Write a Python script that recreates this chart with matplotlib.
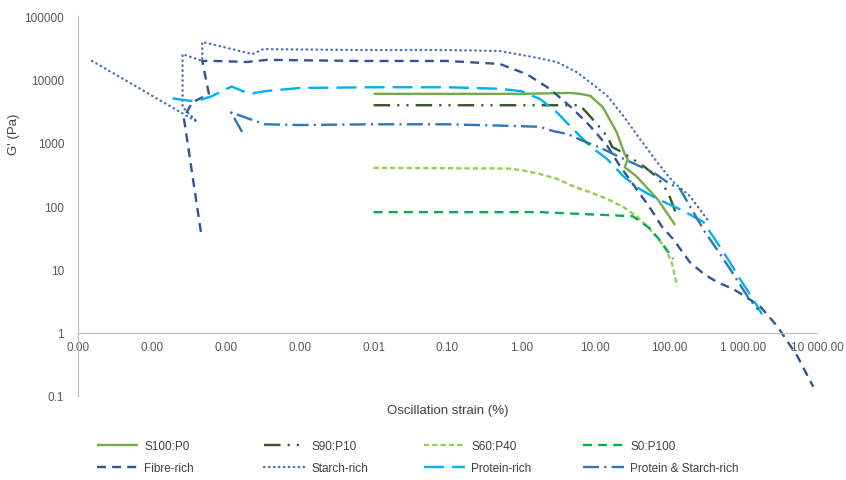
import matplotlib
matplotlib.use("Agg")
import matplotlib.pyplot as plt
from matplotlib.ticker import NullLocator

plt.rcParams['font.family'] = ['Liberation Sans', 'DejaVu Sans']

# ---------------- data (strain %, G' Pa) ----------------
s100_x = [0.01, 0.1, 1.0, 4.5, 6.2, 8.5, 12.6, 19.4, 25, 27.5, 25, 36, 69, 113, 120]
s100_y = [5900, 5900, 5900, 6100, 5900, 5500, 3650, 1480, 660, 550, 410, 295, 129, 56, 50]

s90_x = [0.01, 0.1, 1.0, 6.2, 9.9, 14.5, 17, 23, 47, 69, 96, 128]
s90_y = [3900, 3900, 3900, 3900, 2140, 1260, 850, 710, 410, 285, 166, 69]

s60_x = [0.01, 0.1, 0.7, 1.1, 1.78, 3.0, 5.0, 8.5, 14.5, 24, 36, 50, 69, 93, 110, 128]
s60_y = [400, 395, 390, 360, 320, 270, 205, 165, 129, 96, 69, 48, 32, 19.5, 12, 5.4]

s0_x = [0.01, 0.1, 1.78, 32, 40, 55, 76, 113]
s0_y = [80, 80, 80, 69, 58, 44, 28, 14.6]

fibre_x = [4.6e-5, 2.7e-5, 3.5e-5, 5.9e-5, 4.8e-5, 7.1e-5, 1.95e-4, 3.6e-4, 6.6e-3, 0.1,
           0.51, 1.19, 2.46, 5.0, 8.5, 14.5, 21.5, 36, 45, 60, 80, 113, 190, 300, 445,
           730, 1120, 1700, 2900, 5400, 8900]
fibre_y = [39, 2500, 4300, 5900, 19500, 19500, 18800, 20300, 19500, 19500,
           17500, 12000, 7000, 3400, 1830, 890, 430, 186, 130, 80, 47, 30, 13, 8.3, 6.3,
           4.9, 3.6, 2.6, 1.26, 0.43, 0.14]

starch_x = [1.55e-6, 4.1e-5, 2.6e-5, 2.6e-5, 4.8e-5, 4.8e-5, 2.3e-4, 3.2e-4, 6.6e-3, 0.1,
            0.51, 1.3, 3.0, 5.6, 8.5, 14.5, 24, 40, 69, 113, 190, 340]
starch_y = [19500, 2130, 3650, 25000, 19500, 39000, 25000, 30000, 29000, 29000,
            28000, 23000, 18800, 13000, 9000, 5500, 2640, 1150, 490, 240, 144, 58]

protein_x = [1.9e-5, 3.1e-5, 4.1e-5, 6.2e-5, 8.9e-5, 1.2e-4, 1.7e-4, 2.3e-4, 3.4e-4, 1e-3,
             0.01, 0.1, 0.5, 1.0, 1.78, 3.0, 5.0, 8.5, 14.5, 24, 40, 69, 140, 290, 460,
             660, 910, 1360, 1800]
protein_y = [5000, 4600, 4600, 5300, 6500, 7700, 6500, 6000, 6500, 7300,
             7500, 7500, 7100, 6500, 4900, 3040, 1640, 880, 550, 295, 185, 129, 89, 56, 25,
             13, 7, 3.4, 1.95]

ps_x = [1.66e-4, 1.18e-4, 2.5e-4, 3.4e-4, 1e-3, 0.01, 0.1, 0.87, 1.78, 2.7, 4.2, 6.8, 12.6,
        21.5, 40, 60, 93, 140, 190, 300, 490, 780, 1170, 1600]
ps_y = [1480, 3000, 2200, 1950, 1900, 1950, 1950, 1830, 1780, 1520, 1370, 1070, 800,
        590, 425, 345, 240, 185, 100, 40, 17.4, 7.6, 3.6, 2.3]

y_ticks = [0.1, 1, 10, 100, 1000, 10000, 100000]
y_labels = ['0.1', '1', '10', '100', '1000', '10000', '100000']
x_ticks = [1e-6, 1e-5, 1e-4, 1e-3, 1e-2, 1e-1, 1, 10, 100, 1000, 10000]
x_labels = ['0.00', '0.00', '0.00', '0.00', '0.01', '0.10', '1.00', '10.00', '100.00',
            '1 000.00', '10 000.00']

# ---------------- figure ----------------
W, H = 846, 481
fig = plt.figure(figsize=(W / 100, H / 100), dpi=100)
ax = fig.add_axes([78 / W, 1 - 397 / H, (817 - 78) / W, 380 / H])
ax.set_xscale('log')
ax.set_yscale('log')
ax.set_xlim(1e-6, 1e4)
ax.set_ylim(0.1, 1e5)

lw = 1.7
common = dict(lw=lw, solid_capstyle='butt', dash_capstyle='butt')
l_s100, = ax.plot(s100_x, s100_y, color='#70AD47', ls='-', label='S100:P0', **common)
l_s90, = ax.plot(s90_x, s90_y, color='#375623', ls=(0, (7, 3.0, 0.9, 3.0, 0.9, 3.0)), label='S90:P10', **common)
l_s60, = ax.plot(s60_x, s60_y, color='#92D050', ls=(0, (2.2, 1.3)), label='S60:P40', **common)
l_s0, = ax.plot(s0_x, s0_y, color='#00B050', ls=(0, (3.8, 2.6)), label='S0:P100', **common)
l_fib, = ax.plot(fibre_x, fibre_y, color='#2F5597', ls=(0, (3.8, 2.6)), label='Fibre-rich', **common)
l_sta, = ax.plot(starch_x, starch_y, color='#4472C4', lw=lw, ls=(0, (0.2, 1.9)),
                 dash_capstyle='round', label='Starch-rich')
l_pro, = ax.plot(protein_x, protein_y, color='#00B0F0', ls=(0, (8.5, 3.4)), label='Protein-rich', **common)
l_ps, = ax.plot(ps_x, ps_y, color='#2E75B6', ls=(0, (6.8, 2.2, 0.9, 2.2)), label='Protein & Starch-rich', **common)

# axes styling
for s in ['top', 'right']:
    ax.spines[s].set_visible(False)
ax.spines['left'].set_color('#BFBFBF')
ax.spines['left'].set_linewidth(0.9)
ax.spines['bottom'].set_color('#BFBFBF')
ax.spines['bottom'].set_linewidth(0.9)
ax.spines['bottom'].set_position(('data', 1))

ax.set_xticks(x_ticks, x_labels)
ax.set_yticks(y_ticks, y_labels)
ax.xaxis.set_minor_locator(NullLocator())
ax.yaxis.set_minor_locator(NullLocator())
ax.tick_params(axis='both', length=0, labelsize=8.5, labelcolor='#595959')
ax.tick_params(axis='x', pad=6)
ax.tick_params(axis='y', pad=10)

ax.set_xlabel('Oscillation strain (%)', fontsize=9.5, color='#404040')
ax.xaxis.set_label_coords(0.5, -0.02)
ax.set_ylabel("G' (Pa)", fontsize=9.5, color='#404040')
ax.yaxis.set_label_coords(-0.078, 0.69)

# legend: four columns, each its own legend for exact placement
cols = [(97, [l_s100, l_fib]), (264, [l_s90, l_sta]), (424, [l_s60, l_pro]), (583, [l_s0, l_ps])]
for xpix, hs in cols:
    leg = fig.legend(handles=hs, loc='upper left', bbox_to_anchor=(xpix / W, 1 - 441 / H),
                     frameon=False, borderpad=0, borderaxespad=0, fontsize=8.5,
                     handlelength=3.5, handletextpad=0.5, labelspacing=0.85)
    for t in leg.get_texts():
        t.set_color('#404040')

fig.savefig('out.png', dpi=100)
